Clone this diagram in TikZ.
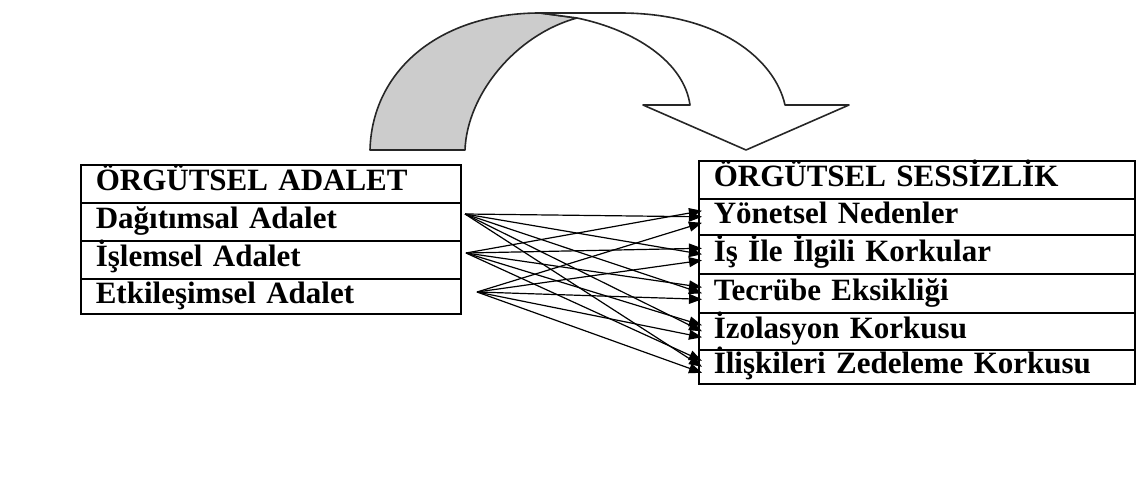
\documentclass[tikz,border=0pt]{standalone}
\usepackage{fontspec}
\setmainfont{Liberation Serif}
\usetikzlibrary{arrows.meta}
\begin{document}
\begin{tikzpicture}[x=1pt,y=-1pt,
  cell/.style={draw, line width=1.6pt, anchor=north west, inner ysep=0pt, inner xsep=15pt,
    align=left, text height=19pt, text depth=5pt,
    font=\fontsize{31}{31}\selectfont\bfseries},
  lcell/.style={cell, text width=350pt},
  rcell/.style={cell, text width=406pt},
  link/.style={line width=1.2pt, -{Triangle[length=13pt,width=10pt]}},
  ribbon/.style={draw=black!85, line width=1.6pt, line join=round}]
\useasboundingbox (0,0) rectangle (1136,494);

% curved arrow: shaded back side, then the white front with its head
\path[ribbon, fill=black!20] (370,150) .. controls (372,70) and (440,13) .. (540,13)
  -- (577,18) .. controls (515,35) and (467,95) .. (465,150) -- cycle;
\path[ribbon, fill=white] (577,18) .. controls (635,30) and (684,62) .. (690,105)
  -- (643,105) -- (746,150) -- (849,105) -- (785,105)
  .. controls (775,60) and (720,13) .. (620,13) -- (540,13) -- cycle;

% left table
\node[lcell, minimum height=38pt] (oa) at (80,164) {ÖRGÜTSEL ADALET};
\node[lcell, minimum height=38pt] (da) at (80,202) {Dağıtımsal Adalet};
\node[lcell, minimum height=38pt] (ia) at (80,240) {İşlemsel Adalet};
\node[lcell, minimum height=35pt] (ea) at (80,278) {Etkileşimsel Adalet};

% right table
\node[rcell, minimum height=38pt] (os) at (698,160) {ÖRGÜTSEL SESSİZLİK};
\node[rcell, minimum height=36pt] (yn) at (698,198) {Yönetsel Nedenler};
\node[rcell, minimum height=39pt] (ik) at (698,234) {İş İle İlgili Korkular};
\node[rcell, minimum height=39pt] (te) at (698,273) {Tecrübe Eksikliği};
\node[rcell, minimum height=37pt] (iz) at (698,312) {İzolasyon Korkusu};
\node[rcell, minimum height=34pt] (il) at (698,349) {İlişkileri Zedeleme Korkusu};

% arrow origins beside the left table
\coordinate (s1) at (465,214);
\coordinate (s2) at (466,253);
\coordinate (s3) at (477,292);

% every justice dimension points to every silence cause
\foreach \t in {yn,ik,te,iz,il}{
  \draw[link] (s1) -- ([xshift=4pt,yshift=0pt]\t.west);
  \draw[link] (s2) -- ([xshift=4pt,yshift=6pt]\t.west);
  \draw[link] (s3) -- ([xshift=4pt,yshift=-6pt]\t.west);
}
\end{tikzpicture}
\end{document}
